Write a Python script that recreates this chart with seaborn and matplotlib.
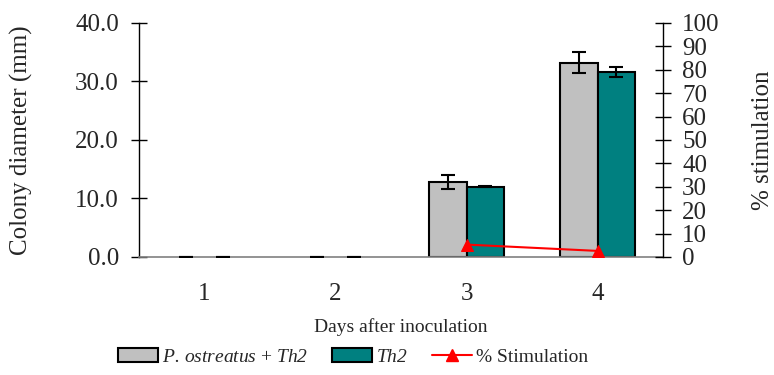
import numpy as np
import pandas as pd
import seaborn as sns
import matplotlib.pyplot as plt
from matplotlib.patches import Patch
from matplotlib.lines import Line2D

days = ["1", "2", "3", "4"]
combo_mean = [0.0, 0.0, 12.8, 33.2]
combo_err = [0.0, 0.0, 1.2, 1.8]
th2_mean = [0.0, 0.0, 12.0, 31.6]
th2_err = [0.0, 0.0, 0.1, 0.9]
stimulation = [np.nan, np.nan, 5.3, 2.6]

combo_label = r"$P.\,ostreatus$ + $Th2$"
th2_label = r"$Th2$"
colors = ["#C0C0C0", "#008080"]

sns.set_theme(style="white")
plt.rcParams["font.family"] = ["Liberation Serif", "DejaVu Serif"]
plt.rcParams["mathtext.fontset"] = "custom"
plt.rcParams["mathtext.rm"] = "Liberation Serif:italic"
plt.rcParams["mathtext.it"] = "Liberation Serif:italic"

df = pd.DataFrame({
    "day": days * 2,
    "diameter": combo_mean + th2_mean,
    "err": combo_err + th2_err,
    "group": ["combo"] * 4 + ["th2"] * 4,
})

fig = plt.figure(figsize=(7.74, 3.75), dpi=100)
ax = fig.add_axes([0.1796, 0.3147, 0.677, 0.624])

sns.barplot(data=df, x="day", y="diameter", hue="group", palette=colors,
            saturation=1, errorbar=None, width=0.57, edgecolor="black",
            linewidth=1.5, legend=False, ax=ax)

# error bars on top of each bar (seaborn can't take precomputed errors)
bars = [p for p in ax.patches if p.get_width() > 0]
for p, e in zip(bars, df["err"]):
    if p.get_height() == 0:
        p.set_linewidth(0)
    ax.errorbar(p.get_x() + p.get_width() / 2, p.get_height(), yerr=e,
                color="black", capsize=5, elinewidth=1.5, capthick=1.5,
                zorder=5)

ax.set_xlim(-0.5, 3.5)
ax.set_ylim(0, 40)
ax.set_yticks(np.arange(0, 41, 10))
ax.set_yticklabels([f"{v:.1f}" for v in np.arange(0, 41, 10)])
ax.set_xticks(np.arange(-0.5, 4, 1), minor=True)
ax.tick_params(axis="x", which="major", length=0, labelsize=18, pad=19)
ax.tick_params(axis="x", which="minor", direction="inout", length=12,
               width=1, color="black")
ax.tick_params(axis="y", direction="inout", length=11, width=1,
               labelsize=18, color="black", left=True, pad=9)
ax.set_xlabel("Days after inoculation", fontsize=14)
ax.xaxis.set_label_coords(0.5, -0.26)
ax.set_ylabel("Colony diameter (mm)", fontsize=18)
ax.yaxis.set_label_coords(-0.202, 0.5)
for s in ["top", "right"]:
    ax.spines[s].set_visible(False)
ax.spines["left"].set_color("black")
ax.spines["bottom"].set_color("#808080")
ax.spines["left"].set_linewidth(1)
ax.spines["bottom"].set_linewidth(1.2)

ax2 = ax.twinx()
stim_df = pd.DataFrame({"pos": np.arange(len(days)), "stim": stimulation}).dropna()
sns.lineplot(data=stim_df, x="pos", y="stim", color="red", marker="^",
             markersize=9, markeredgecolor="red", linewidth=1.5, ax=ax2)
ax2.set_ylim(0, 100)
ax2.set_yticks(np.arange(0, 101, 10))
ax2.tick_params(axis="y", direction="inout", length=11.5, width=1,
                labelsize=18, color="black", right=True, pad=8)
ax2.set_ylabel("% stimulation", fontsize=18)
ax2.yaxis.set_label_coords(1.170, 0.5)
for s in ["top", "left", "bottom"]:
    ax2.spines[s].set_visible(False)
ax2.spines["right"].set_color("black")
ax2.spines["right"].set_linewidth(1)
ax2.set_xlim(-0.5, 3.5)

handles = [
    Patch(facecolor=colors[0], edgecolor="black", linewidth=1.5, label=combo_label),
    Patch(facecolor=colors[1], edgecolor="black", linewidth=1.5, label=th2_label),
    Line2D([], [], color="red", marker="^", markersize=9, linewidth=1.5,
           label="% Stimulation"),
]
fig.legend(handles=handles, loc="center", bbox_to_anchor=(0.456, 0.048),
           ncol=3, frameon=False, fontsize=14, handlelength=2.05,
           handleheight=0.72, columnspacing=1.25, handletextpad=0.2,
           borderpad=0)

fig.savefig("out.png", dpi=100)
